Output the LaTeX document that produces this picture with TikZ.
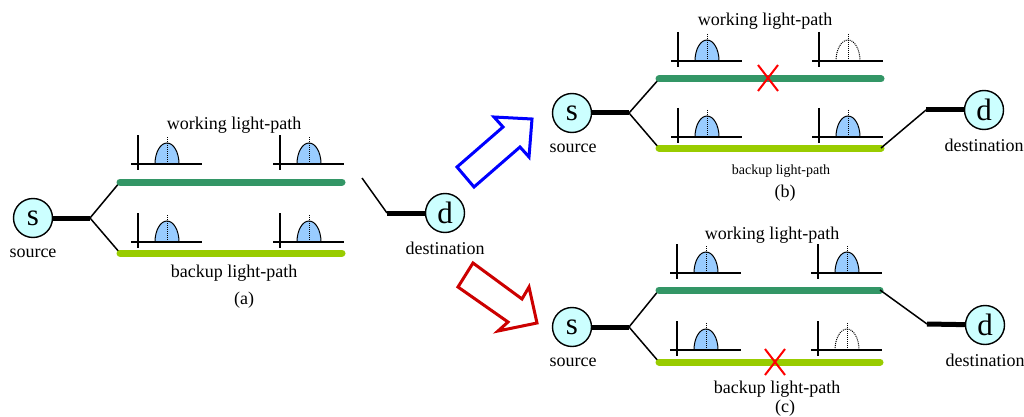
\documentclass[tikz,border=0pt]{standalone}
\usepackage{fontspec}
\setmainfont{Liberation Serif}
\definecolor{workgreen}{RGB}{51,150,102}
\definecolor{backupgreen}{RGB}{153,204,0}
\definecolor{nodefill}{RGB}{204,255,255}
\definecolor{bumpblue}{RGB}{153,204,255}
\definecolor{arrowred}{RGB}{204,0,0}
\newcommand\specicon[2]{%
  \draw[bumpline, fill=bumpblue] (#1+17,#2) arc[start angle=180,end angle=360,x radius=12,y radius=21];
  \draw[densely dotted, line width=1pt] (#1+29,#2-27) -- (#1+29,#2);
  \draw[axis] (#1,#2-29) -- (#1,#2+6);
  \draw[axis] (#1-7,#2) -- (#1+64,#2);
}
\newcommand\lostspec[2]{%
  \draw[bumpline, densely dotted] (#1+17,#2) arc[start angle=180,end angle=360,x radius=12,y radius=21];
  \draw[densely dotted, line width=1pt] (#1+29,#2-27) -- (#1+29,#2);
  \draw[axis] (#1,#2-29) -- (#1,#2+6);
  \draw[axis] (#1-7,#2) -- (#1+64,#2);
}
\newcommand\failmark[2]{%
  \draw[failx] (#1-10,#2-13) -- (#1+10,#2+13);
  \draw[failx] (#1-10,#2+13) -- (#1+10,#2-13);
}
\begin{document}
\begin{tikzpicture}[x=1pt,y=-1pt,
  endpt/.style={circle,draw,fill=nodefill,minimum size=39pt,inner sep=0pt,
    font=\fontsize{31}{31}\selectfont, line width=1.4pt},
  lbl/.style={font=\fontsize{18}{20}\selectfont, inner sep=0pt},
  smalllbl/.style={font=\fontsize{14}{16}\selectfont, inner sep=0pt},
  work/.style={line width=7pt, color=workgreen, line cap=round},
  backup/.style={line width=7pt, color=backupgreen, line cap=round},
  feed/.style={line width=5pt},
  branch/.style={line width=1.5pt},
  axis/.style={line width=1.1pt},
  bumpline/.style={line width=1pt},
  failx/.style={red, line width=2pt},
  blockarrow/.style={line width=3pt, fill=white, line join=miter},
]
\useasboundingbox (0,0) rectangle (1024,417);

% ---------- panel (a) ----------
\node[endpt] (sa) at (33,218) {s};
\node[lbl] (srca) at (33,253) {source};
\coordinate (ja) at (90,218);
\coordinate (wa1) at (120,182);
\coordinate (wa2) at (342,182);
\coordinate (ba1) at (120,253);
\coordinate (ba2) at (342,253);
\draw[feed] (sa) -- (ja);
\draw[branch] (ja) -- (wa1);
\draw[branch] (ja) -- (ba1);
\draw[work] (wa1) -- (wa2);
\draw[backup] (ba1) -- (ba2);
\node[lbl] (wla) at (234,125) {working light-path};
\node[lbl] (bla) at (234,273) {backup light-path};
\node[lbl] (capa) at (244,300) {(a)};
\specicon{138}{164}
\specicon{280}{164}
\specicon{138}{242}
\specicon{280}{242}
\node[endpt] (da) at (445,213) {d};
\node[lbl] (dsta) at (445,248) {destination};
\coordinate (ka) at (387,213);
\coordinate (ea) at (362,178);
\draw[feed] (da) -- (ka);
\draw[branch] (ka) -- (ea);

% ---------- block arrows ----------
\draw[blockarrow, draw=blue] (457,167) -- (503,127) -- (494,117) -- (532,119)
  -- (529,157) -- (520,147) -- (474,187) -- cycle;
\draw[blockarrow, draw=arrowred] (473,263) -- (522,299) -- (529,287) -- (537,323)
  -- (498,331) -- (508,322) -- (458,287) -- cycle;

% ---------- panel (b) ----------
\node[endpt] (sb) at (572,113) {s};
\node[lbl] (srcb) at (573,148) {source};
\coordinate (jb) at (629,113);
\coordinate (wb1) at (659,79);
\coordinate (wb2) at (881,79);
\coordinate (bb1) at (659,148);
\coordinate (bb2) at (881,148);
\draw[feed] (sb) -- (jb);
\draw[branch] (jb) -- (wb1);
\draw[branch] (jb) -- (bb1);
\draw[work] (wb1) -- (wb2);
\draw[backup] (bb1) -- (bb2);
\node[lbl] (wlb) at (765,21) {working light-path};
\node[smalllbl] (blb) at (781,171) {backup light-path};
\node[lbl] (capb) at (785,193) {(b)};
\specicon{678}{61}
\lostspec{819}{61}
\specicon{678}{137}
\specicon{819}{137}
\failmark{768}{78}
\node[endpt] (db) at (984,110) {d};
\node[lbl] (dstb) at (984,145) {destination};
\coordinate (kb) at (926,110);
\draw[feed] (db) -- (kb);
\draw[branch] (kb) -- (bb2);

% ---------- panel (c) ----------
\node[endpt] (sc) at (572,327) {s};
\node[lbl] (srcc) at (573,362) {source};
\coordinate (jc) at (629,327);
\coordinate (wc1) at (659,290);
\coordinate (wc2) at (880,290);
\coordinate (bc1) at (659,362);
\coordinate (bc2) at (880,362);
\draw[feed] (sc) -- (jc);
\draw[branch] (jc) -- (wc1);
\draw[branch] (jc) -- (bc1);
\draw[work] (wc1) -- (wc2);
\draw[backup] (bc1) -- (bc2);
\node[lbl] (wlc) at (772,235) {working light-path};
\node[lbl] (blc) at (777,389) {backup light-path};
\node[lbl] (capc) at (785,408) {(c)};
\specicon{677}{273}
\specicon{818}{273}
\specicon{677}{350}
\lostspec{818}{350}
\failmark{775}{362}
\node[endpt] (dc) at (985,325) {d};
\node[lbl] (dstc) at (985,360) {destination};
\coordinate (kc) at (927,324);
\draw[feed] (dc) -- (kc);
\draw[branch] (kc) -- (wc2);
\end{tikzpicture}
\end{document}
